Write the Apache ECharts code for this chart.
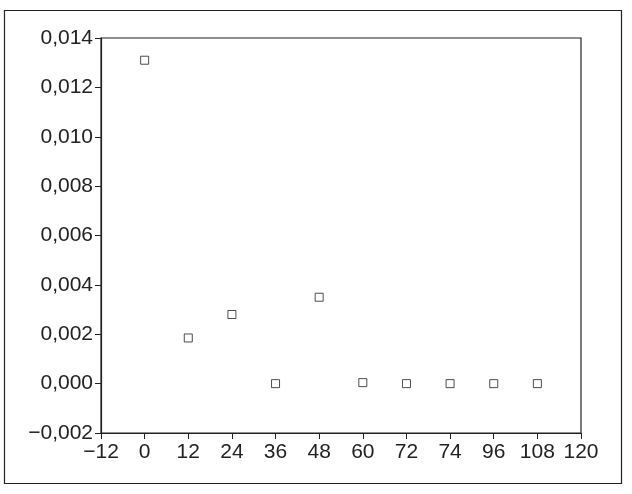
<!DOCTYPE html>
<html>
<head>
<meta charset="utf-8">
<script src="https://cdn.jsdelivr.net/npm/echarts@6/dist/echarts.min.js"></script>
<style>
  html, body { margin: 0; padding: 0; background: #fff; }
  #chart { width: 632px; height: 494px; }
</style>
</head>
<body>
<div id="chart"></div>
<script>
// data
var hours = [0, 12, 24, 36, 48, 60, 72, 84, 96, 108];
var values = [0.0131, 0.00185, 0.0028, 0.0, 0.0035, 0.00004, 0.0, 0.0, 0.0, 0.0];
// tick labels as printed (the original prints 74 at the 84 tick)
var xTickLabels = ["−12", "0", "12", "24", "36", "48", "60", "72", "74", "96", "108", "120"];
var yTickLabels = ["−0,002", "0,000", "0,002", "0,004", "0,006", "0,008", "0,010", "0,012", "0,014"];

var ink = "#222";
var font = "Liberation Sans, Arial, Helvetica, sans-serif";

var chart = echarts.init(document.getElementById("chart"));
chart.setOption({
  animation: false,
  backgroundColor: "#fff",
  graphic: [{
    type: "rect",
    shape: { x: 4.5, y: 10.5, width: 617, height: 473 },
    style: { fill: "none", stroke: ink, lineWidth: 1.2 },
    silent: true
  }],
  grid: {
    left: 101, right: 51, top: 38, bottom: 61,
    show: true, borderColor: ink, borderWidth: 1.2, backgroundColor: "transparent"
  },
  xAxis: {
    type: "value",
    min: -12, max: 120, interval: 12,
    splitLine: { show: false },
    axisLine: { onZero: false, lineStyle: { color: ink, width: 1.2 } },
    axisTick: { show: true, length: 6, lineStyle: { color: ink } },
    axisLabel: {
      color: ink, fontFamily: font, fontSize: 21, margin: 9,
      formatter: function (v) {
        return xTickLabels[Math.round((v + 12) / 12)];
      }
    }
  },
  yAxis: {
    type: "value",
    min: -0.002, max: 0.014, interval: 0.002,
    splitLine: { show: false },
    axisLine: { show: true, onZero: false, lineStyle: { color: ink, width: 1.2 } },
    axisTick: { show: true, length: 6, lineStyle: { color: ink } },
    axisLabel: {
      color: ink, fontFamily: font, fontSize: 21, margin: 8,
      formatter: function (v) {
        return yTickLabels[Math.round((v + 0.002) / 0.002)];
      }
    }
  },
  series: [{
    type: "scatter",
    data: hours.map(function (h, i) { return [h, values[i]]; }),
    symbol: "rect",
    symbolSize: 8,
    itemStyle: { color: "#fff", borderColor: ink, borderWidth: 1 }
  }]
});
</script>
</body>
</html>
